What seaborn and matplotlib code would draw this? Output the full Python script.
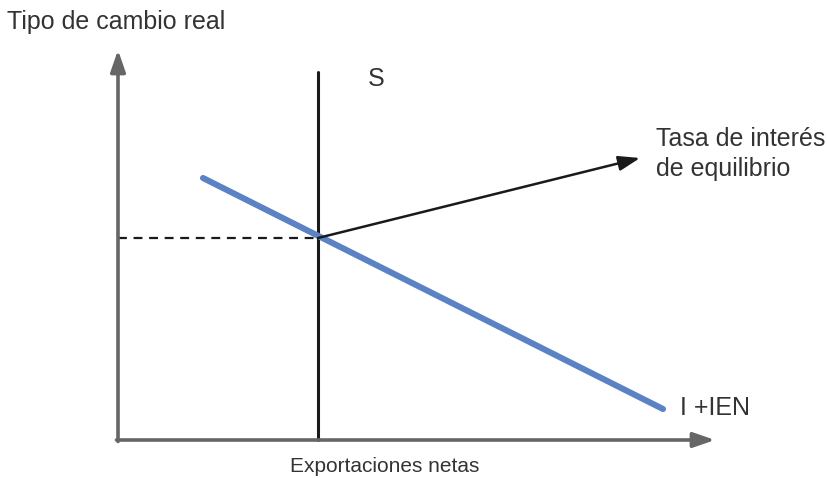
import matplotlib
matplotlib.use("Agg")
import matplotlib.pyplot as plt
import seaborn as sns
import pandas as pd

# Diagram coordinates (origin at the axes corner)
demand_x = [85, 545]
demand_y = [262, 31]
supply_x = [200, 200]
supply_y = [0, 368]
eq_x = [0, 200]
eq_y = [202, 202]
arrow_start = (200, 202)
arrow_end = (522, 282)
axis_top = 390
axis_right = 597

labels = {
    "ylabel": "Tipo de cambio real",
    "xlabel": "Exportaciones netas",
    "supply": "S",
    "demand": "I +IEN",
    "rate": "Tasa de interés\nde equilibrio",
}

sns.set_style("white")
plt.rcParams['font.family'] = ['Liberation Sans', 'DejaVu Sans']

fig = plt.figure(figsize=(8.28, 4.78), dpi=100)
ax = fig.add_axes([0, 0, 1, 1])
ax.set_xlim(-118, 710)
ax.set_ylim(-38, 440)
ax.axis("off")

grey = "#666666"
# axes with arrows
ax.annotate("", xy=(0, axis_top), xytext=(0, -1.5),
            arrowprops=dict(arrowstyle="-|>,head_length=1.3,head_width=0.45",
                            color=grey, lw=2.6, shrinkA=0, shrinkB=0))
ax.annotate("", xy=(axis_right, 0), xytext=(-1.5, 0),
            arrowprops=dict(arrowstyle="-|>,head_length=1.3,head_width=0.45",
                            color=grey, lw=2.6, shrinkA=0, shrinkB=0))

df_demand = pd.DataFrame({"x": demand_x, "y": demand_y})
df_supply = pd.DataFrame({"x": supply_x, "y": supply_y})
df_eq = pd.DataFrame({"x": eq_x, "y": eq_y})

sns.lineplot(data=df_supply, x="x", y="y", ax=ax, color="#1a1a1a", lw=2.2,
             estimator=None, sort=False)
sns.lineplot(data=df_eq, x="x", y="y", ax=ax, color="#1a1a1a", lw=1.6,
             linestyle=(0, (4, 3)), estimator=None, sort=False)
ax.annotate("", xy=arrow_end, xytext=arrow_start,
            arrowprops=dict(arrowstyle="-|>,head_length=1.3,head_width=0.45",
                            color="#1a1a1a", lw=1.8, shrinkA=0, shrinkB=0))
sns.lineplot(data=df_demand, x="x", y="y", ax=ax, color="#5b82c4", lw=4.4,
             solid_capstyle="round", estimator=None, sort=False)

txt = dict(color="#333333", va="center", ha="left")
ax.text(-111, 418, labels["ylabel"], fontsize=18, **txt)
ax.text(172, -26, labels["xlabel"], fontsize=15, **txt)
ax.text(250, 361, labels["supply"], fontsize=18, **txt)
ax.text(538, 286, labels["rate"], fontsize=18, linespacing=1.3, **txt)
ax.text(562, 32, labels["demand"], fontsize=18, **txt)

fig.savefig("out.png", dpi=100)
